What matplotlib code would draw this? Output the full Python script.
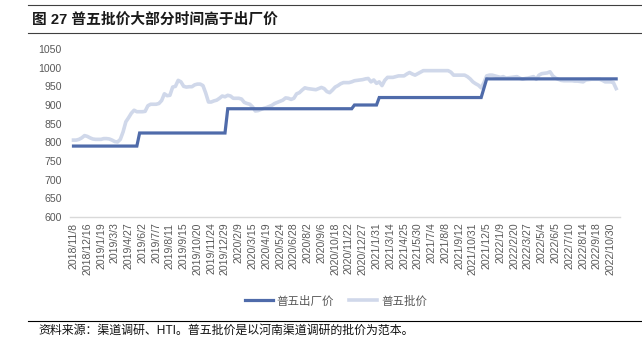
import matplotlib
matplotlib.use("Agg")
import matplotlib.pyplot as plt
from matplotlib.lines import Line2D

plt.rcParams['font.family'] = ['Liberation Sans', 'Noto Sans CJK SC', 'DejaVu Sans']

tick_labels = ["2018/11/8", "2018/12/16", "2019/1/19", "2019/3/3", "2019/4/27", "2019/6/2",
               "2019/7/7", "2019/8/11", "2019/9/15", "2019/10/20", "2019/11/24", "2019/12/29",
               "2020/2/9", "2020/3/15", "2020/4/19", "2020/5/24", "2020/6/28", "2020/8/2",
               "2020/9/6", "2020/10/18", "2020/11/22", "2020/12/27", "2021/1/31", "2021/3/14",
               "2021/4/25", "2021/5/30", "2021/7/4", "2021/8/8", "2021/9/12", "2021/10/31",
               "2021/12/5", "2022/1/9", "2022/2/20", "2022/3/27", "2022/5/4", "2022/6/5",
               "2022/7/10", "2022/8/14", "2022/9/18", "2022/10/30"]
label_every = 5

factory_price = [
    790, 790, 790, 790, 790, 790, 790, 790, 790, 790,
    790, 790, 790, 790, 790, 790, 790, 790, 790, 790,
    790, 790, 790, 790, 825, 825, 825, 825, 825, 825,
    825, 825, 825, 825, 825, 825, 825, 825, 825, 825,
    825, 825, 825, 825, 825, 825, 825, 825, 825, 825,
    825, 825, 825, 825, 825, 825, 890, 890, 890, 890,
    890, 890, 890, 890, 890, 890, 890, 890, 890, 890,
    890, 890, 890, 890, 890, 890, 890, 890, 890, 890,
    890, 890, 890, 890, 890, 890, 890, 890, 890, 890,
    890, 890, 890, 890, 890, 890, 890, 890, 890, 890,
    890, 890, 900, 900, 900, 900, 900, 900, 900, 900,
    900, 920, 920, 920, 920, 920, 920, 920, 920, 920,
    920, 920, 920, 920, 920, 920, 920, 920, 920, 920,
    920, 920, 920, 920, 920, 920, 920, 920, 920, 920,
    920, 920, 920, 920, 920, 920, 920, 920, 920, 945,
    970, 970, 970, 970, 970, 970, 970, 970, 970, 970,
    970, 970, 970, 970, 970, 970, 970, 970, 970, 970,
    970, 970, 970, 970, 970, 970, 970, 970, 970, 970,
    970, 970, 970, 970, 970, 970, 970, 970, 970, 970,
    970, 970, 970, 970, 970, 970, 970, 970,
]

wholesale_price = [
    806, 806, 808, 812, 818, 816, 812, 809, 808, 808,
    808, 810, 810, 809, 806, 802, 801, 808, 828, 855,
    866, 878, 886, 882, 882, 882, 883, 898, 902, 902,
    902, 904, 912, 930, 925, 926, 948, 950, 966, 962,
    950, 948, 949, 949, 954, 956, 956, 952, 932, 908,
    908, 911, 913, 918, 924, 922, 926, 924, 918, 918,
    918, 916, 907, 904, 902, 895, 884, 885, 888, 891,
    893, 896, 899, 904, 907, 910, 913, 919, 918, 915,
    918, 930, 933, 940, 946, 944, 943, 942, 941, 944,
    947, 944, 936, 933, 940, 948, 952, 957, 960, 960,
    960, 962, 965, 966, 967, 968, 970, 971, 962, 967,
    958, 962, 952, 966, 974, 974, 974, 976, 978, 978,
    978, 983, 987, 983, 980, 984, 988, 992, 992, 992,
    992, 992, 992, 992, 992, 992, 992, 988, 980, 980,
    980, 980, 980, 976, 970, 962, 957, 953, 946, 960,
    978, 980, 980, 978, 976, 974, 976, 972, 973, 974,
    975, 976, 972, 969, 971, 972, 974, 976, 969, 980,
    984, 985, 986, 989, 978, 972, 969, 966, 965, 965,
    965, 965, 964, 964, 963, 962, 967, 968, 969, 969,
    969, 969, 966, 962, 962, 962, 960, 944,
]

series_names = ["普五出厂价", "普五批价"]
title_text = "图 27 普五批价大部分时间高于出厂价"
source_text = "资料来源：渠道调研、HTI。普五批价是以河南渠道调研的批价为范本。"

W, H = 642, 356
fig = plt.figure(figsize=(W / 100, H / 100), dpi=100)

# axes placement in pixels
left_px, right_px, top_px, bottom_px = 70, 620, 49, 217
ax = fig.add_axes([left_px / W, 1 - bottom_px / H, (right_px - left_px) / W, (bottom_px - top_px) / H])

x = list(range(len(wholesale_price)))
ax.plot(x, wholesale_price, color="#D0D8EA", lw=2.6, solid_joinstyle="round", zorder=2)
ax.plot(list(range(len(factory_price))), factory_price, color="#4F6BAA", lw=2.3,
        solid_joinstyle="miter", zorder=3)

ax.set_ylim(600, 1050)
ax.set_yticks(list(range(600, 1051, 50)))
ax.set_xlim(-1.27, 198.4)
ax.set_xticks(list(range(0, len(tick_labels) * label_every, label_every)))
ax.set_xticklabels(tick_labels, rotation=90)

for s in ["left", "right", "top"]:
    ax.spines[s].set_visible(False)
ax.spines["bottom"].set_color("#D9D9D9")
ax.spines["bottom"].set_linewidth(1.0)
ax.tick_params(axis="both", length=0, labelsize=7.6, labelcolor="#595959")
ax.tick_params(axis="y", pad=6)
ax.tick_params(axis="x", pad=4)

# legend
handles = [Line2D([], [], color="#4F6BAA", lw=2.3),
           Line2D([], [], color="#D0D8EA", lw=2.6)]
fig.legend(handles, series_names, loc="center", bbox_to_anchor=(336 / W, 1 - 301.5 / H),
           ncol=2, frameon=False, fontsize=8.3, handlelength=2.4, handletextpad=0.35,
           columnspacing=1.3, labelcolor="#595959")

# title and rules
fig.add_artist(Line2D([28 / W, 1.0], [1 - 5 / H, 1 - 5 / H], color="#404040", lw=0.8))
fig.add_artist(Line2D([28 / W, 1.0], [1 - 33 / H, 1 - 33 / H], color="#404040", lw=0.8))
fig.text(32 / W, 1 - 19.5 / H, title_text, fontsize=10.6, fontweight="bold", va="center", ha="left",
         color="#1a1a1a")

fig.add_artist(Line2D([28 / W, 1.0], [1 - 320.7 / H, 1 - 320.7 / H], color="#000000", lw=0.8))
fig.text(38 / W, 1 - 330.5 / H, source_text, fontsize=8.6, va="center", ha="left", color="#111111")

fig.savefig("out.png", dpi=100)
